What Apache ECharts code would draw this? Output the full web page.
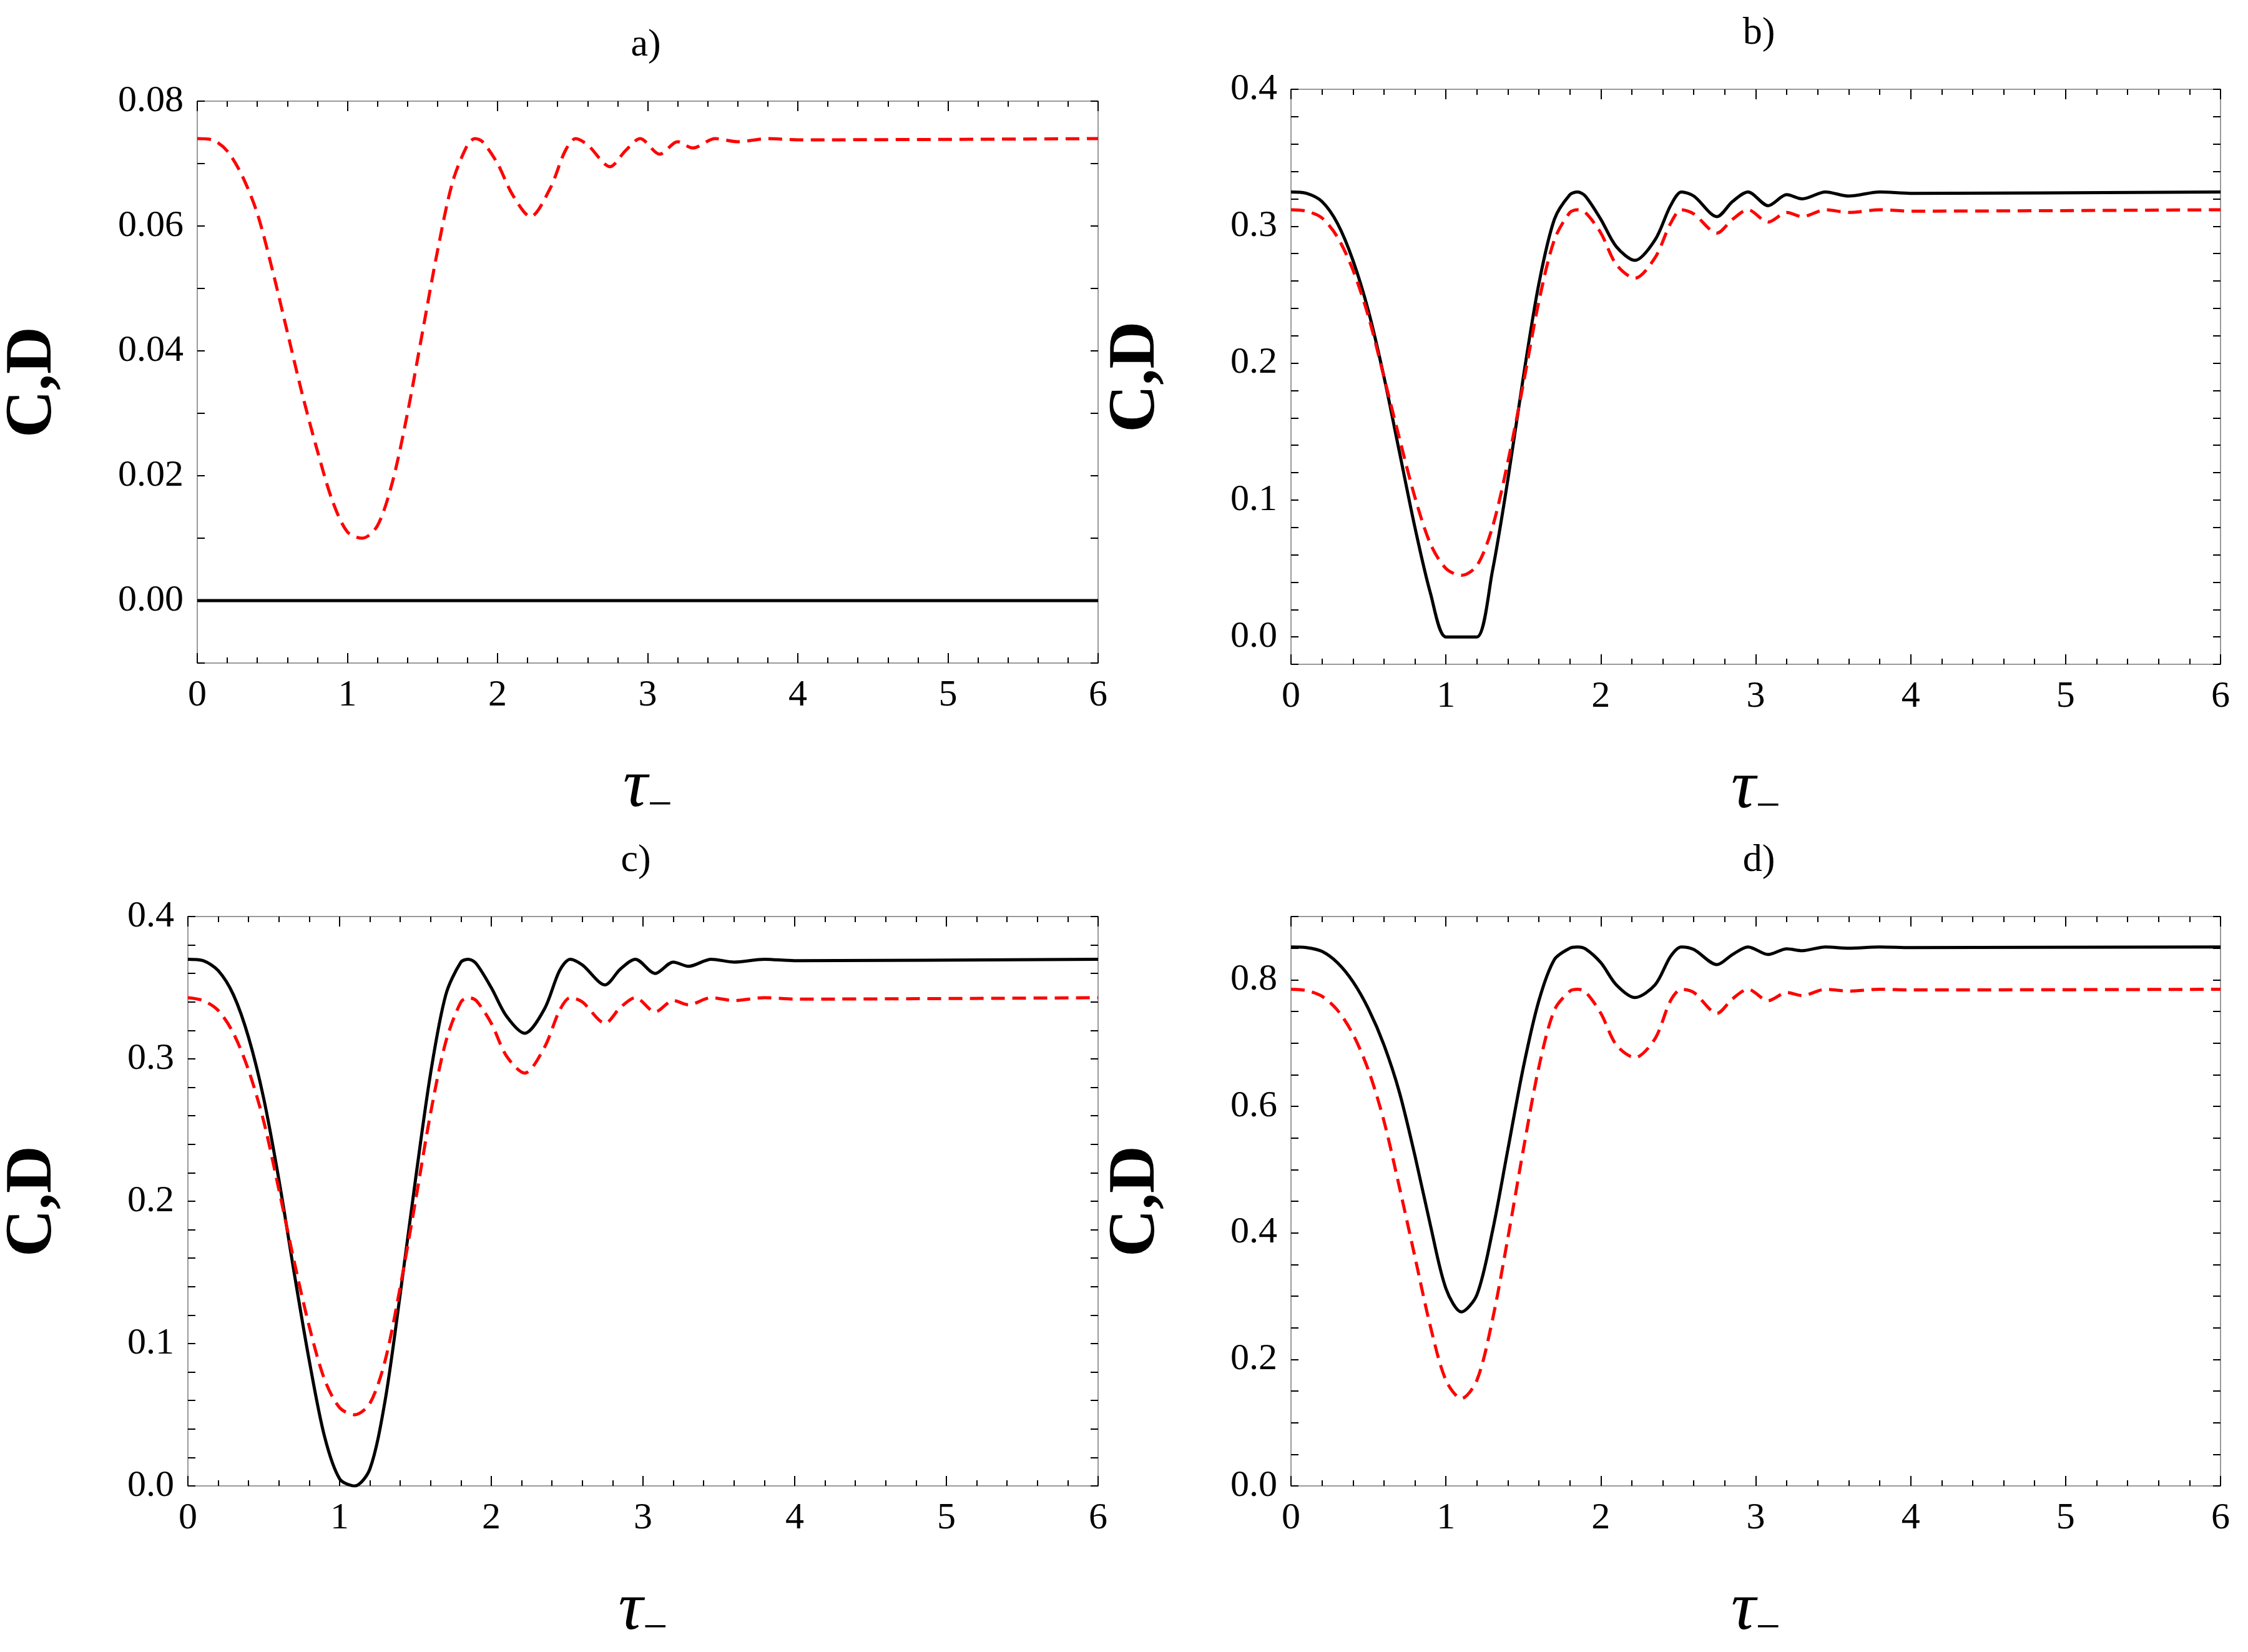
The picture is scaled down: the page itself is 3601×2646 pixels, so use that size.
<!DOCTYPE html>
<html lang="en">
<head>
    <meta charset="UTF-8">
    <title>C,D vs tau</title>
    <script src="https://cdn.jsdelivr.net/npm/echarts@6/dist/echarts.min.js"></script>
    <style>
        html, body { margin: 0; background: #fff; }
        #main { width: 3601px; height: 2646px; }
    </style>
</head>
<body>
    <div id="main"></div>
    <script>
        // sample points along tau_-
        var tau = [0, 0.1, 0.2, 0.3, 0.4, 0.5, 0.6, 0.7, 0.8, 0.9, 1.0, 1.1, 1.2, 1.3, 1.4, 1.5, 1.6, 1.7, 1.8, 1.85, 1.9, 2.0, 2.1, 2.22, 2.35, 2.45, 2.52, 2.6, 2.75, 2.85, 2.95, 3.08, 3.2, 3.3, 3.45, 3.6, 3.8, 4.0, 6.0];

        var aBlack = [0, 0, 0, 0, 0, 0, 0, 0, 0, 0, 0, 0, 0, 0, 0, 0, 0, 0, 0, 0, 0, 0, 0, 0, 0, 0, 0, 0, 0, 0, 0, 0, 0, 0, 0, 0, 0, 0, 0];
        var aRed = [0.074, 0.0738, 0.072, 0.068, 0.062, 0.053, 0.043, 0.033, 0.024, 0.016, 0.011, 0.010, 0.012, 0.019, 0.030, 0.043, 0.056, 0.067, 0.073, 0.074, 0.0735, 0.070, 0.065, 0.0615, 0.066, 0.072, 0.074, 0.073, 0.0695, 0.072, 0.074, 0.0715, 0.0735, 0.0725, 0.074, 0.0735, 0.074, 0.0738, 0.074];

        var bBlack = [0.325, 0.324, 0.318, 0.302, 0.275, 0.238, 0.190, 0.135, 0.080, 0.032, 0.0, 0.0, 0.0, 0.048, 0.115, 0.190, 0.258, 0.305, 0.323, 0.325, 0.322, 0.305, 0.285, 0.275, 0.290, 0.315, 0.325, 0.322, 0.307, 0.318, 0.325, 0.315, 0.323, 0.320, 0.325, 0.322, 0.325, 0.324, 0.325];
        var bRed = [0.312, 0.311, 0.306, 0.292, 0.268, 0.234, 0.190, 0.145, 0.102, 0.068, 0.050, 0.045, 0.052, 0.080, 0.128, 0.185, 0.245, 0.290, 0.310, 0.312, 0.310, 0.295, 0.272, 0.262, 0.277, 0.302, 0.312, 0.309, 0.295, 0.305, 0.312, 0.303, 0.310, 0.307, 0.312, 0.310, 0.312, 0.311, 0.312];

        var cBlack = [0.370, 0.369, 0.362, 0.345, 0.315, 0.272, 0.215, 0.150, 0.088, 0.035, 0.005, 0.0, 0.012, 0.060, 0.135, 0.215, 0.290, 0.345, 0.368, 0.370, 0.367, 0.350, 0.330, 0.318, 0.335, 0.362, 0.370, 0.366, 0.352, 0.363, 0.370, 0.360, 0.368, 0.365, 0.370, 0.368, 0.370, 0.369, 0.370];
        var cRed = [0.343, 0.341, 0.334, 0.318, 0.292, 0.256, 0.208, 0.158, 0.112, 0.075, 0.055, 0.050, 0.058, 0.088, 0.140, 0.200, 0.262, 0.312, 0.340, 0.343, 0.341, 0.325, 0.302, 0.290, 0.308, 0.334, 0.343, 0.340, 0.325, 0.336, 0.343, 0.333, 0.341, 0.338, 0.343, 0.341, 0.343, 0.342, 0.343];

        var dBlack = [0.852, 0.851, 0.845, 0.827, 0.797, 0.754, 0.697, 0.622, 0.522, 0.412, 0.312, 0.275, 0.302, 0.402, 0.532, 0.662, 0.767, 0.832, 0.850, 0.852, 0.849, 0.827, 0.792, 0.772, 0.792, 0.837, 0.852, 0.848, 0.824, 0.840, 0.852, 0.840, 0.849, 0.846, 0.852, 0.850, 0.852, 0.851, 0.852];
        var dRed = [0.785, 0.783, 0.774, 0.752, 0.714, 0.657, 0.577, 0.472, 0.362, 0.252, 0.167, 0.138, 0.167, 0.262, 0.392, 0.532, 0.662, 0.752, 0.782, 0.785, 0.781, 0.747, 0.697, 0.677, 0.707, 0.767, 0.785, 0.780, 0.747, 0.770, 0.785, 0.767, 0.780, 0.775, 0.785, 0.782, 0.785, 0.784, 0.785];

        var panelTitles = ['a)', 'b)', 'c)', 'd)'];
        var yRanges = [[-0.01, 0.08, 0.01], [-0.02, 0.4, 0.02], [0, 0.4, 0.02], [0, 0.9, 0.05]];
        var panelData = [[aBlack, aRed], [bBlack, bRed], [cBlack, cRed], [dBlack, dRed]];

        var grids = [
            { left: 300, top: 162, width: 1459, height: 900 },
            { left: 2068, top: 143, width: 1489, height: 921 },
            { left: 268, top: 1468, width: 1491, height: 921 },
            { left: 2068, top: 1468, width: 1489, height: 921 }
        ];

        var font = '"Liberation Serif", "DejaVu Serif", serif';
        var frame = '#9a9a9a';

        function pairs(ys) {
            return tau.map(function (t, i) { return [t, ys[i]]; });
        }

        // which y ticks carry a label
        function yLabel(p, v) {
            if (p === 0) {
                var m = Math.round(v * 1000);
                return (m % 20 === 0 && m >= 0) ? v.toFixed(2) : '';
            }
            if (p === 3) {
                var k = Math.round(v * 100);
                return (k % 20 === 0 && k < 90) ? v.toFixed(1) : '';
            }
            var n = Math.round(v * 100);
            return (n % 10 === 0 && n >= 0) ? v.toFixed(1) : '';
        }

        var option = {
            backgroundColor: '#fff',
            animation: false,
            title: [],
            grid: [],
            xAxis: [],
            yAxis: [],
            series: []
        };

        var line = { show: true, onZero: false, lineStyle: { color: frame, width: 2 } };
        var tick = { inside: true, length: 16, lineStyle: { color: '#000', width: 2 } };
        var minor = { show: true, splitNumber: 5, length: 9, lineStyle: { color: '#000', width: 2 } };

        grids.forEach(function (g, p) {
            option.grid.push({ left: g.left, top: g.top, width: g.width, height: g.height, show: false });
            option.title.push({
                text: panelTitles[p],
                left: g.left + g.width / 2, top: g.top - 125, textAlign: 'center',
                textStyle: { fontFamily: font, fontWeight: 'normal', fontSize: 62, color: '#000' }
            });
            var r = yRanges[p];
            // bottom axis with labels
            option.xAxis.push({
                type: 'value', gridIndex: p, position: 'bottom', min: 0, max: 6, interval: 1,
                name: '{t|τ}{s|−}', nameLocation: 'middle', nameGap: 135,
                nameTextStyle: { rich: {
                    t: { fontFamily: font, fontStyle: 'italic', fontSize: 110, color: '#000' },
                    s: { fontFamily: font, fontSize: 70, color: '#000', padding: [60, 0, 0, 0] }
                } },
                axisLine: line, axisTick: tick, minorTick: minor,
                axisLabel: { fontFamily: font, fontSize: 60, color: '#000', margin: 22 },
                splitLine: { show: false }
            });
            // top frame
            option.xAxis.push({
                type: 'value', gridIndex: p, position: 'top', min: 0, max: 6, interval: 1,
                axisLine: line, axisTick: tick, minorTick: minor,
                axisLabel: { show: false }, splitLine: { show: false }
            });
            option.yAxis.push({
                type: 'value', gridIndex: p, position: 'left', min: r[0], max: r[1], interval: r[2],
                name: 'C,D', nameLocation: 'middle', nameGap: p === 0 ? 210 : 195, nameRotate: 90,
                nameTextStyle: { fontFamily: font, fontWeight: 'bold', fontSize: 105, color: '#000' },
                axisLine: line,
                axisTick: { inside: true, length: 12, lineStyle: { color: '#000', width: 2 } },
                axisLabel: {
                    fontFamily: font, fontSize: 60, color: '#000', margin: 22,
                    formatter: function (v) { return yLabel(p, v); }
                },
                splitLine: { show: false }
            });
            option.yAxis.push({
                type: 'value', gridIndex: p, position: 'right', min: r[0], max: r[1], interval: r[2],
                axisLine: line,
                axisTick: { inside: true, length: 12, lineStyle: { color: '#000', width: 2 } },
                axisLabel: { show: false }, splitLine: { show: false }
            });
            option.series.push({
                type: 'line', xAxisIndex: p * 2, yAxisIndex: p * 2, data: pairs(panelData[p][0]),
                smooth: 0.3, showSymbol: false, lineStyle: { color: '#000', width: 5 }, z: 3
            });
            option.series.push({
                type: 'line', xAxisIndex: p * 2, yAxisIndex: p * 2, data: pairs(panelData[p][1]),
                smooth: 0.3, showSymbol: false,
                lineStyle: { color: '#ff0000', width: 5, type: [22, 12] }, z: 4
            });
        });

        var myChart = echarts.init(document.getElementById('main'));
        myChart.setOption(option);
    </script>
</body>
</html>
